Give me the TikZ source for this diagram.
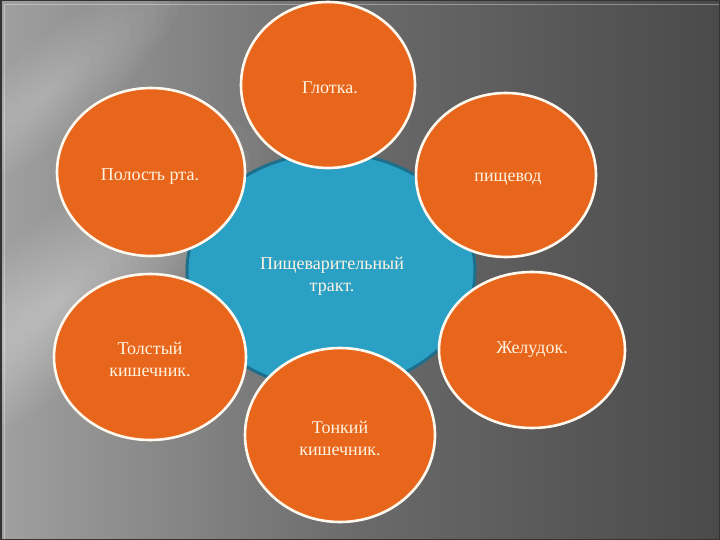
\documentclass[tikz,border=0pt]{standalone}
\usepackage{fontspec}
\setmainfont{Liberation Serif}
\usetikzlibrary{shapes.geometric}
\definecolor{bgL}{HTML}{A0A0A0}
\definecolor{bgM}{HTML}{6A6A6A}
\definecolor{bgR}{HTML}{4A4A4A}
\definecolor{orangeF}{HTML}{E8661C}
\definecolor{ringW}{HTML}{FFF8EE}
\definecolor{blueF}{HTML}{2AA0C4}
\definecolor{blueD}{HTML}{1D6F8C}
\definecolor{txtC}{HTML}{FFF4E2}
\tikzset{
  x=1pt, y=-1pt,
  petal/.style={ellipse, draw=ringW, line width=2.6pt, fill=orangeF, inner sep=0pt},
  hub/.style={ellipse, draw=blueD, line width=3pt, fill=blueF, inner sep=0pt},
  lbl/.style={text=txtC, align=center, font=\fontsize{18}{22}\selectfont, inner sep=0pt},
  glowstep/.style={fill=white, opacity=0.028}
}
\begin{document}
\begin{tikzpicture}
\useasboundingbox (0,0) rectangle (720,540);
% background
\shade[left color=bgL, right color=bgR, middle color=bgM] (0,0) rectangle (720,540);
\begin{scope}
\clip (0,0) rectangle (720,540);
\foreach \s in {1,...,16}{
  \fill[glowstep, rotate around={40:(60,300)}] (60,300) ellipse [x radius={16pt*\s}, y radius={4.6pt*\s}];
}
\foreach \s in {1,...,10}{
  \fill[glowstep, rotate around={40:(50,90)}] (50,90) ellipse [x radius={17pt*\s}, y radius={4.5pt*\s}];
}
\end{scope}
\draw[white, opacity=0.35, line width=0.8pt] (4,540) -- (4,4) -- (720,4);
\draw[black!80, line width=1.5pt] (0.75,0.75) rectangle (719.25,539.25);
% hub
\node[hub, minimum width=288pt, minimum height=236pt] (hub) at (331,271) {};
% petals
\node[petal, minimum width=174pt, minimum height=166pt] (gl) at (328,85) {};
\node[petal, minimum width=188pt, minimum height=168pt] (pr) at (151,172) {};
\node[petal, minimum width=180pt, minimum height=164pt] (pi) at (506,175) {};
\node[petal, minimum width=192pt, minimum height=166pt] (to) at (150,357) {};
\node[petal, minimum width=186pt, minimum height=156pt] (zh) at (532,350) {};
\node[petal, minimum width=190pt, minimum height=174pt] (tn) at (340,435) {};
% labels
\node[lbl] (tgl) at (330,88) {Глотка.};
\node[lbl] (tpr) at (150,177) {Полость рта.};
\node[lbl] (tpi) at (508,179) {пищевод};
\node[lbl] (thub) at (332,276) {Пищеварительный\\тракт.};
\node[lbl] (tto) at (150,359) {Толстый\\кишечник.};
\node[lbl] (tzh) at (532,350) {Желудок.};
\node[lbl] (ttn) at (340,438) {Тонкий\\кишечник.};
\end{tikzpicture}
\end{document}
